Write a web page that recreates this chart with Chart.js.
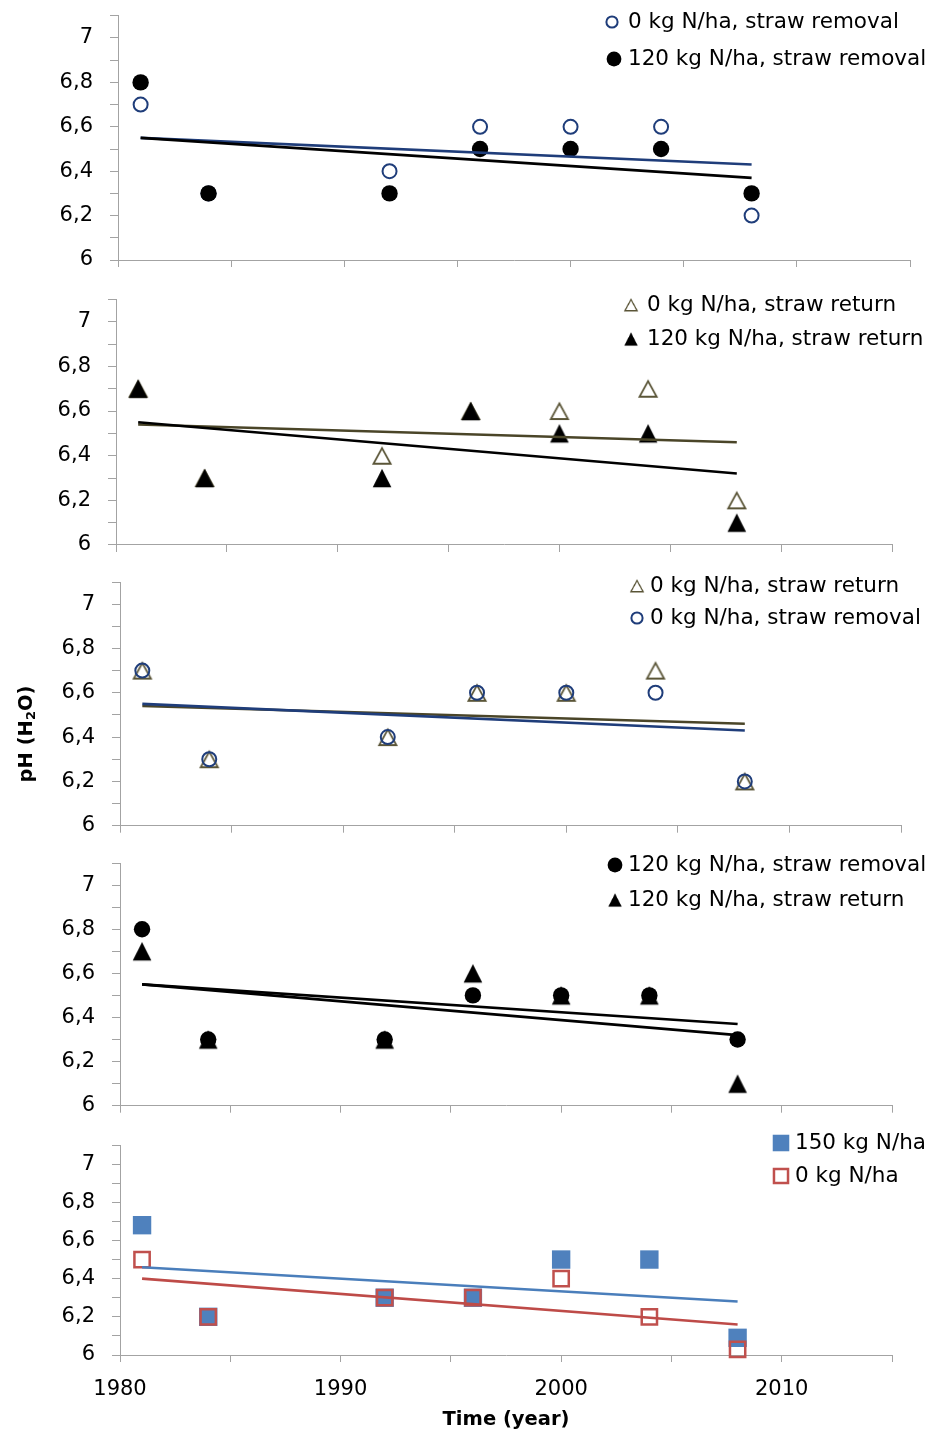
<!DOCTYPE html>
<html>
<head>
<meta charset="utf-8">
<title>Soil pH over time</title>
<script src="https://cdn.jsdelivr.net/npm/chart.js@4.4.0/dist/chart.umd.min.js"></script>
<style>
  html, body { margin: 0; padding: 0; background: #ffffff; }
  #figure { position: relative; width: 932px; height: 1433px; overflow: hidden; background: #ffffff; }
  #figure canvas { position: absolute; left: 0; top: 0; }
</style>
</head>
<body>
<div id="figure">
  <canvas id="panel1" width="932" height="1433"></canvas>
  <canvas id="panel2" width="932" height="1433"></canvas>
  <canvas id="panel3" width="932" height="1433"></canvas>
  <canvas id="panel4" width="932" height="1433"></canvas>
  <canvas id="panel5" width="932" height="1433"></canvas>
</div>
<script>
// ---- sampling years and measured pH (H2O) ----
const years = [1981, 1984, 1992, 1996, 2000, 2004, 2008];

const ph0kgRemoval   = [6.7, 6.3, 6.4, 6.6, 6.6, 6.6, 6.2];
const ph120kgRemoval = [6.8, 6.3, 6.3, 6.5, 6.5, 6.5, 6.3];
const ph0kgReturn    = [6.7, 6.3, 6.4, 6.6, 6.6, 6.7, 6.2];
const ph120kgReturn  = [6.7, 6.3, 6.3, 6.6, 6.5, 6.5, 6.1];
const ph150kgN       = [6.68, 6.2, 6.3, 6.3, 6.5, 6.5, 6.09];
const ph0kgN         = [6.5, 6.2, 6.3, 6.3, 6.4, 6.2, 6.03];

// ---- linear trend lines: value at first and last sampling year ----
const trendYears        = [1981, 2008];
const trend0kgRemoval   = [6.55, 6.43];
const trend120kgRemoval = [6.55, 6.37];
const trend0kgReturn    = [6.54, 6.46];
const trend120kgReturn  = [6.55, 6.32];
const trend150kgN       = [6.46, 6.28];
const trend0kgN         = [6.40, 6.16];

// ---- tick labels ----
const xTickLabels = [1980, 1990, 2000, 2010];
const yTickLabels = [6, 6.2, 6.4, 6.6, 6.8, 7];

// ---- series names ----
const NAME_0_REMOVAL   = '0 kg N/ha, straw removal';
const NAME_120_REMOVAL = '120 kg N/ha, straw removal';
const NAME_0_RETURN    = '0 kg N/ha, straw return';
const NAME_120_RETURN  = '120 kg N/ha, straw return';
const NAME_150         = '150 kg N/ha';
const NAME_0           = '0 kg N/ha';

// ---- look ----
const W = 932, H = 1433;
const FONT = 'DejaVu Sans';
const TEXT = '#000000';
const AXIS = '#a3a3a3';
const NAVY = '#1f3d7a';
const OLIVE_LINE = '#4a4528';
const OLIVE = '#5a5537';
const BLUE = '#4f81bd';
const BLUE_LINE = '#4a7ebb';
const RED = '#c0504d';
const RED_LINE = '#be4b48';
const CLEAR = 'rgba(0,0,0,0)';

// triangle markers drawn as small bitmaps (slightly taller than equilateral)
function triangleMarker(filled, color) {
  const c = document.createElement('canvas');
  c.width = 26; c.height = 26;
  const g = c.getContext('2d');
  g.beginPath();
  if (filled) {
    g.moveTo(13, 13 - 9.3); g.lineTo(13 + 9.3, 13 + 9.3); g.lineTo(13 - 9.3, 13 + 9.3);
    g.closePath(); g.fillStyle = color; g.fill();
  } else {
    g.moveTo(13, 13 - 7.6); g.lineTo(13 + 8.6, 13 + 8); g.lineTo(13 - 8.6, 13 + 8);
    g.closePath(); g.lineWidth = 1.8; g.strokeStyle = color; g.stroke();
  }
  return c;
}

const STYLE = {
  openCircle:   { pointStyle: 'circle', pointRadius: 7,  backgroundColor: CLEAR, borderColor: NAVY, borderWidth: 2 },
  filledCircle: { pointStyle: 'circle', pointRadius: 8.2, backgroundColor: '#000000', borderColor: '#000000', borderWidth: 0 },
  openTri:      { pointStyle: triangleMarker(false, OLIVE), pointRadius: 9, backgroundColor: CLEAR, borderColor: OLIVE, borderWidth: 0 },
  filledTri:    { pointStyle: triangleMarker(true, '#000000'), pointRadius: 9, backgroundColor: '#000000', borderColor: '#000000', borderWidth: 0 },
  filledSquare: { pointStyle: 'rect', pointRadius: 13, backgroundColor: BLUE, borderColor: BLUE, borderWidth: 0 },
  openSquare:   { pointStyle: 'rect', pointRadius: 10.8, backgroundColor: CLEAR, borderColor: RED, borderWidth: 2.5 }
};

const toPoints = (xs, ys) => xs.map((x, i) => ({ x: x, y: ys[i] }));

function markerSeries(label, values, style, order) {
  return Object.assign({ label: label, data: toPoints(years, values), showLine: false, order: order, clip: false }, style);
}

function trendSeries(values, color, order) {
  return {
    label: '', data: toPoints(trendYears, values), showLine: true, fill: false,
    borderColor: color, borderWidth: 2.6, pointRadius: 0, order: order, clip: false
  };
}

// draws one legend marker the same way the points are drawn
function drawLegendMarker(ctx, ds, x, y, scale) {
  const st = ds.pointStyle;
  if (st && typeof st === 'object') {
    const w = st.width * scale, h = st.height * scale;
    ctx.drawImage(st, x - w / 2, y - h / 2, w, h);
    return;
  }
  const r = ds.pointRadius * scale;
  ctx.fillStyle = ds.backgroundColor;
  ctx.strokeStyle = ds.borderColor;
  ctx.lineWidth = ds.borderWidth;
  if (Chart.helpers && Chart.helpers.drawPoint) {
    Chart.helpers.drawPoint(ctx, { pointStyle: st, radius: r, borderWidth: ds.borderWidth, rotation: 0 }, x, y);
    return;
  }
  ctx.beginPath();
  if (st === 'rect') {
    const s = Math.SQRT1_2 * r;
    ctx.rect(x - s, y - s, 2 * s, 2 * s);
  } else {
    ctx.arc(x, y, r, 0, Math.PI * 2);
  }
  ctx.fill();
  if (ds.borderWidth > 0) ctx.stroke();
}

// legend block in the upper right corner of each panel
const panelLegend = {
  id: 'panelLegend',
  afterDraw(chart, args, opts) {
    if (!opts || !opts.rows) return;
    const ctx = chart.ctx;
    ctx.save();
    opts.rows.forEach(row => {
      const ds = chart.data.datasets[row.dataset];
      drawLegendMarker(ctx, ds, row.mx, row.y, row.scale);
      ctx.font = '21.5px "' + FONT + '"';
      ctx.textBaseline = 'middle';
      ctx.textAlign = 'left';
      ctx.fillStyle = TEXT;
      ctx.fillText(ds.label, row.tx, row.y);
    });
    ctx.restore();
  }
};

// rotated y axis title with subscript
const phAxisTitle = {
  id: 'phAxisTitle',
  afterDraw(chart, args, opts) {
    if (!opts || !opts.show) return;
    const ctx = chart.ctx;
    const main = 'bold 19.5px "' + FONT + '"';
    const sub = 'bold 13px "' + FONT + '"';
    const parts = [['pH (H', main, 0], ['2', sub, 5], ['O)', main, 0]];
    ctx.save();
    ctx.translate(opts.x, opts.y);
    ctx.rotate(-Math.PI / 2);
    ctx.textBaseline = 'middle';
    ctx.textAlign = 'left';
    ctx.fillStyle = TEXT;
    let total = 0;
    parts.forEach(p => { ctx.font = p[1]; total += ctx.measureText(p[0]).width; });
    let cx = -total / 2;
    parts.forEach(p => {
      ctx.font = p[1];
      ctx.fillText(p[0], cx, p[2]);
      cx += ctx.measureText(p[0]).width;
    });
    ctx.restore();
  }
};

function makePanel(id, frame, datasets, legendRows, showYears, yTitle) {
  return new Chart(document.getElementById(id), {
    type: 'scatter',
    data: { datasets: datasets },
    options: {
      responsive: false,
      animation: false,
      events: [],
      layout: { padding: { left: 0, right: W - frame.right, top: frame.top, bottom: 0 } },
      plugins: {
        legend: { display: false },
        tooltip: { enabled: false },
        panelLegend: { rows: legendRows },
        phAxisTitle: yTitle || { show: false }
      },
      scales: {
        x: {
          type: 'linear',
          position: 'bottom',
          min: 1980,
          max: 2015,
          afterFit: scale => {
            scale.height = H - frame.bottom;
            scale.paddingLeft = 0;
            scale.paddingRight = 0;
          },
          ticks: {
            stepSize: 5,
            autoSkip: false,
            maxRotation: 0,
            padding: 15,
            color: TEXT,
            font: { family: FONT, size: 21 },
            callback: v => (showYears && xTickLabels.includes(v)) ? String(v) : ''
          },
          grid: { drawOnChartArea: false, drawTicks: true, tickLength: 7, color: AXIS, lineWidth: 1 },
          border: { display: true, color: AXIS, width: 1 },
          title: showYears ? {
            display: true,
            text: 'Time (year)',
            color: TEXT,
            font: { family: FONT, size: 19.5, weight: 'bold' },
            padding: { top: 0, bottom: 1 }
          } : { display: false }
        },
        y: {
          type: 'linear',
          min: 6,
          max: 7.1,
          afterFit: scale => {
            scale.width = frame.left;
            scale.paddingTop = 0;
            scale.paddingBottom = 0;
          },
          ticks: {
            stepSize: 0.1,
            autoSkip: false,
            padding: 17,
            color: TEXT,
            font: { family: FONT, size: 21 },
            callback: v => {
              const hit = yTickLabels.find(t => Math.abs(t - v) < 1e-6);
              return hit === undefined ? '' : String(hit).replace('.', ',');
            }
          },
          grid: { drawOnChartArea: false, drawTicks: true, tickLength: 8, color: AXIS, lineWidth: 1 },
          border: { display: true, color: AXIS, width: 1 }
        }
      }
    },
    plugins: [panelLegend, phAxisTitle]
  });
}

// Panel 1: straw removal, 0 vs 120 kg N/ha
makePanel('panel1', { left: 118, right: 910, top: 15.8, bottom: 260 }, [
  trendSeries(trend120kgRemoval, '#000000', 0),
  trendSeries(trend0kgRemoval, NAVY, 1),
  markerSeries(NAME_120_REMOVAL, ph120kgRemoval, STYLE.filledCircle, 2),
  markerSeries(NAME_0_REMOVAL, ph0kgRemoval, STYLE.openCircle, 3)
], [
  { dataset: 3, mx: 612, tx: 628, y: 22, scale: 0.8 },
  { dataset: 2, mx: 614, tx: 628, y: 59, scale: 0.9 }
], false);

// Panel 2: straw return, 0 vs 120 kg N/ha
makePanel('panel2', { left: 116, right: 892, top: 299.4, bottom: 545 }, [
  trendSeries(trend120kgReturn, '#000000', 0),
  trendSeries(trend0kgReturn, OLIVE_LINE, 1),
  markerSeries(NAME_120_RETURN, ph120kgReturn, STYLE.filledTri, 2),
  markerSeries(NAME_0_RETURN, ph0kgReturn, STYLE.openTri, 3)
], [
  { dataset: 3, mx: 631, tx: 647, y: 305, scale: 0.72 },
  { dataset: 2, mx: 631, tx: 647, y: 339, scale: 0.72 }
], false);

// Panel 3: 0 kg N/ha, straw return vs straw removal
makePanel('panel3', { left: 120, right: 901, top: 582, bottom: 825.7 }, [
  trendSeries(trend0kgRemoval, NAVY, 0),
  trendSeries(trend0kgReturn, OLIVE_LINE, 1),
  markerSeries(NAME_0_REMOVAL, ph0kgRemoval, STYLE.openCircle, 2),
  markerSeries(NAME_0_RETURN, ph0kgReturn, STYLE.openTri, 3)
], [
  { dataset: 3, mx: 637, tx: 650, y: 586, scale: 0.72 },
  { dataset: 2, mx: 637, tx: 650, y: 618, scale: 0.8 }
], false, { show: true, x: 27, y: 734 });

// Panel 4: 120 kg N/ha, straw removal vs straw return
makePanel('panel4', { left: 120, right: 892, top: 863, bottom: 1105.7 }, [
  trendSeries(trend120kgReturn, '#000000', 0),
  trendSeries(trend120kgRemoval, '#000000', 1),
  markerSeries(NAME_120_RETURN, ph120kgReturn, STYLE.filledTri, 2),
  markerSeries(NAME_120_REMOVAL, ph120kgRemoval, STYLE.filledCircle, 3)
], [
  { dataset: 3, mx: 615, tx: 628, y: 865, scale: 0.9 },
  { dataset: 2, mx: 615, tx: 628, y: 900, scale: 0.72 }
], false);

// Panel 5: 150 vs 0 kg N/ha
makePanel('panel5', { left: 120, right: 892, top: 1145, bottom: 1355 }, [
  trendSeries(trend0kgN, RED_LINE, 0),
  trendSeries(trend150kgN, BLUE_LINE, 1),
  markerSeries(NAME_0, ph0kgN, STYLE.openSquare, 2),
  markerSeries(NAME_150, ph150kgN, STYLE.filledSquare, 3)
], [
  { dataset: 3, mx: 781, tx: 795, y: 1143, scale: 0.9 },
  { dataset: 2, mx: 781, tx: 795, y: 1176, scale: 0.92 }
], true);
</script>
</body>
</html>
